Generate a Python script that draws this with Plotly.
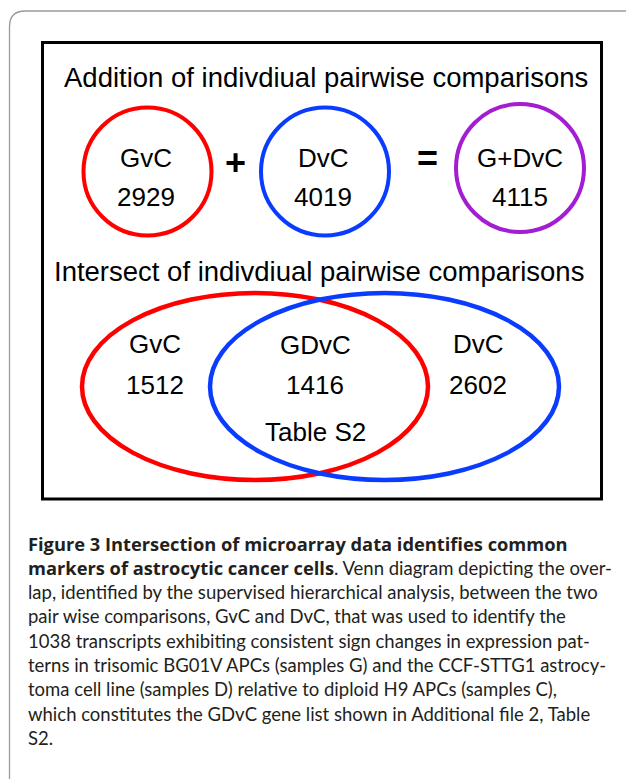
import plotly.graph_objects as go

# ---- data ----
title_top = "Addition of indivdiual pairwise comparisons"
title_bottom = "Intersect of indivdiual pairwise comparisons"
sets_top = ["GvC", "DvC", "G+DvC"]
counts_top = [2929, 4019, 4115]
operators = ["+", "="]
regions_bottom = ["GvC", "GDvC", "DvC"]
counts_bottom = [1512, 1416, 2602]
region_note = ["", "Table S2", ""]
caption_bold = [
    "Figure 3 Intersection of microarray data identifies common",
    "markers of astrocytic cancer cells",
]
caption_lines = [
    "",
    ". Venn diagram depicting the over-",
    "lap, identified by the supervised hierarchical analysis, between the two",
    "pair wise comparisons, GvC and DvC, that was used to identify the",
    "1038 transcripts exhibiting consistent sign changes in expression pat-",
    "terns in trisomic BG01V APCs (samples G) and the CCF-STTG1 astrocy-",
    "toma cell line (samples D) relative to diploid H9 APCs (samples C),",
    "which constitutes the GDvC gene list shown in Additional file 2, Table",
    "S2.",
]

# ---- layout / styles ----
W, H = 626, 779
ARIAL = "Liberation Sans, Arial, sans-serif"
CAP_FONT = "Lato, Roboto, sans-serif"
BOLD_STYLE = "font-family:Open Sans, Roboto, sans-serif;font-weight:700;font-size:18.3px"
top_colors = ["#ff0000", "#0a3cff", "#a31ed2"]
top_centers = [(147.5, 171.5), (325, 171.5), (520, 168)]
top_r = 64
top_text_x = [146, 323, 520]
top_label_y, top_count_y = 158, 197
op_pos = [(235, 162), (427, 158)]
ell_colors = ["#ff0000", "#0a3cff"]
ell_boxes = [(82, 293, 428, 480), (210, 293, 559, 480)]
bottom_pos = [(155, 344, 385), (315, 345, 385), (478, 344, 385)]
note_y = 432

fig = go.Figure()
fig.add_trace(go.Scatter(x=[0, W], y=[0, H], mode="markers",
                         marker=dict(opacity=0), hoverinfo="skip", showlegend=False))

shapes = []
# outer rounded frame (cropped at right and bottom)
shapes.append(dict(type="path", xref="x", yref="y",
                   path="M 9.5 790 L 9.5 27 Q 9.5 11 25 11 L 640 11",
                   line=dict(color="#9a9a9a", width=1.3)))
# inner black box
shapes.append(dict(type="rect", xref="x", yref="y", x0=42.5, y0=42.5, x1=601.5, y1=499,
                   line=dict(color="#000000", width=3)))
# top circles
for (cx, cy), col in zip(top_centers, top_colors):
    shapes.append(dict(type="circle", xref="x", yref="y",
                       x0=cx - top_r, x1=cx + top_r, y0=cy - top_r, y1=cy + top_r,
                       line=dict(color=col, width=4)))
# bottom ellipses
for (x0, y0, x1, y1), col in zip(ell_boxes, ell_colors):
    shapes.append(dict(type="circle", xref="x", yref="y", x0=x0, x1=x1, y0=y0, y1=y1,
                       line=dict(color=col, width=4.5)))

ann = []
def txt(x, y, s, size, font=ARIAL, color="#000000", xanchor="center"):
    ann.append(dict(x=x, y=y, xref="x", yref="y", text=s, showarrow=False,
                    xanchor=xanchor, yanchor="middle",
                    font=dict(family=font, size=size, color=color)))

txt(325.5, 77, title_top, 27.5)
txt(319, 271, title_bottom, 27.5)
for x, name, cnt in zip(top_text_x, sets_top, counts_top):
    txt(x, top_label_y, name, 26)
    txt(x, top_count_y, str(cnt), 26)
for (x, y), op in zip(op_pos, operators):
    txt(x, y, "<b>" + op + "</b>", 36)
for (x, y1, y2), name, cnt, note in zip(bottom_pos, regions_bottom, counts_bottom, region_note):
    txt(x, y1, name, 26)
    txt(x, y2, str(cnt), 26)
    if note:
        txt(x, note_y, note, 26)

for i, line in enumerate(caption_lines):
    s = line
    if i < len(caption_bold):
        s = "<span style='" + BOLD_STYLE + "'>" + caption_bold[i] + "</span>" + line
    txt(26, 543 + i * 24.4, s, 18.5, font=CAP_FONT, color="#231f20", xanchor="left")

fig.update_layout(
    width=W, height=H, margin=dict(l=0, r=0, t=0, b=0),
    paper_bgcolor="#ffffff", plot_bgcolor="#ffffff",
    xaxis=dict(range=[0, W], visible=False, fixedrange=True),
    yaxis=dict(range=[H, 0], visible=False, fixedrange=True),
    shapes=shapes, annotations=ann, showlegend=False,
)
fig.write_html("out.html", post_script="document.body.style.margin='0';",
               config={"displayModeBar": False})
